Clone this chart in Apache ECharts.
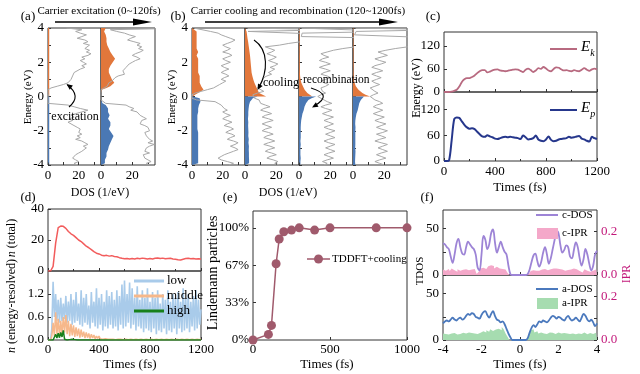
<!DOCTYPE html>
<html><head><meta charset="utf-8">
<script src="https://cdn.jsdelivr.net/npm/echarts@6/dist/echarts.min.js"></script>
<style>html,body{margin:0;padding:0;background:#fff}#c{width:640px;height:374px}</style>
</head><body><div id="c"></div>
<script>
// ---------- DATA ----------
// Energy grid for DOS panels (index 0 = +4.0 eV, index 80 = -4.0 eV)
const energyCats = [];
for (let i = 0; i <= 80; i++) energyCats.push(((40 - i) / 10).toFixed(1));

// total DOS (gray) per sub-panel, E = 4.0 -> -4.0
const dosA1 = [12,22,18,21,25,22,19,24,26,23,27, 28,24,27,25,28,26,22,24,21,23, 25,22,24,21,20,17,18,16,17,15, 16,13,10,6,2,0,0,0,0,0, 0,0,0,0,13,17,21,26,22,18, 15,17,14,16,13,15,16,19,21,22, 20,22,19,21,18,22,24,26,23,25, 24,22,20,18,19,16,18,20,17,19];
const dosA2 = [60,6,10,15,18,22,19,17,21,25,23, 26,24,27,25,22,20,23,25,22,20, 18,19,16,17,14,13,15,11,9,10, 7,5,6,4,2,0,0,0,0,0, 0,0,0,3,16,18,21,19,23,22, 25,27,29,26,27,25,28,30,29,31, 28,27,29,28,31,33,30,34,31,29, 30,28,31,27,26,28,30,32,29,31];
const dosB1 = [1,1,12,17,19,22,25,28,26,23,20, 22,25,23,20,24,26,23,20,22,25, 22,19,21,24,21,19,22,24,21,19, 22,20,18,17,14,10,6,2,0,0, 0,3,15,17,19,18,21,23,20,22, 25,22,20,23,26,23,21,25,27,24, 22,26,28,25,23,27,30,28,25,28, 30,27,24,21,19,17,19,23,27,24];
const dosB2 = [1,60,2,1,60,60,55,45,36,28,22, 13,16,19,17,14,17,20,18,15,18, 21,19,16,19,17,15,17,14,12,13, 11,12,10,9,8,9,12,8,5,5, 6,9,8,10,13,16,12,10,14,17, 13,11,15,18,14,11,14,17,13,11, 15,18,14,12,16,19,15,12,16,19, 15,13,17,20,16,14,18,21,19,22];
const dosB3 = [1,1,60,2,1,1.5,60,60,60,55,45, 36,28,22,18,14,16,19,15,13,17, 20,16,13,17,20,16,14,18,20,17, 14,16,19,17,14,13,15,17,14,12, 13,16,18,21,17,14,17,21,18,15, 18,22,19,16,19,22,19,16,19,23, 20,17,20,23,19,16,19,23,20,17, 20,23,19,16,19,22,18,15,18,16];
const dosB4 = [1,60,2,1,1,1.5,60,60,60,55,45, 35,27,21,16,19,22,18,14,17,21, 18,14,12,16,19,15,12,15,18,15, 12,14,17,14,11,12,14,16,13,11, 12,14,17,19,15,13,16,19,16,13, 16,20,17,14,17,21,18,15,18,22, 19,15,18,21,17,14,18,22,19,16, 19,22,18,15,18,21,17,14,17,20];

// occupied electrons (E = 4.0 -> 0.0) and holes (E = 0.0 -> -4.0)
const elecA1 = [0.8,0.8,0.8,0.8,0.8,0.8,0.8,0.8,0.8,0.8,0.8, 0.8,0.8,0.8,0.8,0.8,0.8,0.8,0.8,0.8,0.8, 0.8,0.8,0.8,0.8,0.8,0.8,0.8,0.8,0.8,0.8, 0.8,0.8,0.8,0.8,0.8,0.8,0.8,0.8,0.8,0.8];
const holeA1 = [0.8,0.8,0.8,0.8,0.8,0.8,0.8,0.8,0.8,0.8,0.8, 0.8,0.8,0.8,0.8,0.8,0.8,0.8,0.8,0.8,0.8, 0.8,0.8,0.8,0.8,0.8,0.8,0.8,0.8,0.8,0.8, 0.8,0.8,0.8,0.8,0.8,0.8,0.8,0.8,0.8,0.8];
const elecA2 = [3,2.5,2,2.5,3,3.5,3.5,4,3.5,4,4, 4.5,5,5.5,6,7,7.5,8.5,9,8,7.5, 7,6,5.5,5,5.5,5,5.5,6,6.5,7, 7.5,8.5,8,6,3.5,0.5,0,0,0,0];
const holeA2 = [0, 0,0,0,1,3,4,4.5,4,4.5,5, 5.5,5,4.5,5,6,6.5,6,5.5,5,5.5, 6.5,7.5,8,7.5,7,6.5,6,5.5,5,4.5, 4.5,4,3.5,3,3.5,3,2.5,3,2.5,2];
const elecB1 = [0,1,3,3.5,3,2.5,3,3.5,3,2.5,3, 3.5,3,3.5,4,3.5,3,3.5,4,4.5,4, 3.5,4,4.5,4,3.5,4,4.5,5,4.5,5, 5.5,5,5.5,6,7,7.5,6,4,2,0.5];
const holeB1 = [0.5, 5,6,5.5,5,4.5,4,4,3.5,4,3.5, 3.5,3,3.5,4,3.5,3,3.5,4,3.5,3.5, 4,4.5,4,3.5,4,3.5,4,4.5,4,3.5, 4,4.5,4,3.5,4,4.5,4,3.5,4,3.5];
const elecB2 = [0,0.5,1,1.2,1.3,1.5,1.6,1.8,2,2.1,2.3, 2.4,2.6,2.8,2.9,3,3.2,3.3,3.4,3.5,3.6, 3.7,3.8,3.9,4,4.1,4.2,4.4,4.7,5,5.3, 5.7,6,6.5,7,7.5,8,8.5,9,10,13.5];
const holeB2 = [8, 5,3.8,3.2,2.8,2.6,2.4,2.3,2.2,2.1,2, 2.1,2,1.9,2,2.1,1.9,2,2.2,2.1,2, 2.2,2.3,2.1,2.2,2.4,2.3,2.2,2.4,2.5,2.3, 2.4,2.6,2.5,2.3,2.5,2.7,2.6,2.4,2.6,2.5];
const elecB3 = [0.3,0.4,0.4,0.5,0.4,0.4,0.5,0.4,0.4,0.5,0.4, 0.4,0.5,0.5,0.4,0.5,0.5,0.4,0.5,0.5,0.5, 0.5,0.5,0.6,0.5,0.6,0.6,0.6,0.7,0.8,1, 1.2,1.5,2,2.5,3,3.6,4.4,5.3,6.5,8.5];
const holeB3 = [11, 8,6,5,4.5,4,3.5,3.5,3,2.5,2.2, 2,1.8,1.5,1.4,1.3,1.2,1.2,1.1,1.2,1.1, 1,1.1,1,1.1,1,0.9,1,1.1,1,0.9, 1,0.9,1,0.9,1,1.1,1,0.9,1,0.9];
const elecB4 = [0.3,0.3,0.4,0.3,0.4,0.3,0.3,0.4,0.3,0.3,0.4, 0.3,0.4,0.3,0.3,0.4,0.3,0.4,0.3,0.3,0.4, 0.3,0.4,0.4,0.3,0.4,0.4,0.4,0.5,0.5,0.5, 0.6,1,1.3,1.8,2.5,3.5,4.5,6,8,11];
const holeB4 = [7, 6,5,4.5,4,3.8,3.5,3,3,2.5,2.2, 2,1.8,1.6,1.5,1.6,1.4,1.5,1.6,1.4,1.5, 1.6,1.5,1.4,1.5,1.6,1.5,1.4,1.5,1.6,1.4, 1.5,1.6,1.4,1.5,1.3,1.4,1.5,1.3,1.4,1.5];

// (c) energies, 0..1200 fs step 20
const ekV = [0,0,0,1,3,6,14,26,33,36,36, 39,43,49,54,57,57,51,53,56,58, 59,56,55,54,55,57,58,59,58,55, 52,58,61,57,52,56,62,60,65,61, 56,54,60,64,63,59,56,57,55,54, 57,55,54,58,62,58,55,59,61,59];
const epV = [0,0,2,48,97,101,100,92,84,78,75, 76,74,68,62,57,56,60,57,55,52, 51,53,55,56,55,56,55,54,53,51, 59,55,50,51,53,59,50,47,46,50, 57,49,46,47,50,51,52,53,56,54, 55,57,58,52,50,47,45,56,53,51];
// (d) n total, 0..1200 fs step 20
const nTotal = [0,0,3,18,28,29,28.8,27.5,25.5,24,23, 21.5,20,19,17.5,16,15,13.8,12.5,11.5,11, 10.2,9.8,10.1,9.6,9.9,9.4,9.2,8.6,8.2,7.9, 8.1,7.7,8.0,7.8,8.2,7.9,8.3,8.0,7.7,8.1, 7.8,8.2,8.4,8.0,8.3,7.9,8.1,8.2,7.8,7.6, 7.3,7.1,7.6,8.0,8.2,7.9,8.1,7.8,7.9,7.7];
// (d) energy-resolved, 0..1200 fs step 10
const nLow = [0,0,0,0.3,1.52,0.6,1.2,0.5,1.05,0.45, 1.1,0.5,0.95,0.55,1.15,0.45,1.0,0.5,1.2,0.4, 1.05,0.45,1.25,0.5,0.95,0.4,1.3,0.35,1.1,0.45, 1.2,0.4,0.9,0.3,1.25,0.45,1.0,0.35,1.35,0.3, 1.1,0.4,1.2,0.25,1.0,0.35,1.3,0.3,1.15,0.4, 1.25,0.3,1.05,0.35,1.3,0.25,1.15,0.4,1.45,0.3, 1.55,0.35,1.2,0.45,1.5,0.3,1.35,0.4,1.1,0.25, 1.4,0.35,1.05,0.3,1.3,0.2,1.1,0.3,1.35,0.25, 1.0,0.2,1.25,0.3,1.1,0.15,1.3,0.25,0.95,0.2, 1.2,0.3,1.05,0.15,1.3,0.25,1.0,0.2,1.2,0.3, 1.1,0.15,1.25,0.3,1.0,0.2,1.35,0.25,1.1,0.3, 1.2,0.2,1.0,0.35,1.15,0.25,1.3,0.3,1.05,0.4, 0.8];
const nMiddle = [0,0,0,0.1,0.45,0.1,0.72,0.15,0.55,0.1, 0.5,0.15,0.6,0.2,0.65,0.15,0.5,0.1,0.42,0.12, 0.38,0.08,0.33,0.1,0.3,0.06,0.27,0.08,0.22,0.05, 0.2,0.06,0.17,0.04,0.15,0.05,0.13,0.03,0.1,0.04, 0.1,0.03,0.08,0.02,0.07,0.03,0.06,0.02,0.07,0.02, 0.05,0.02,0.06,0.01,0.05,0.02,0.07,0.02,0.05,0.01, 0.06,0.02,0.05,0.01,0.04,0.02,0.06,0.01,0.05,0.02, 0.04,0.01,0.06,0.02,0.05,0.01,0.04,0.02,0.05,0.01, 0.05,0.02,0.04,0.01,0.06,0.02,0.04,0.01,0.05,0.02, 0.04,0.01,0.05,0.02,0.06,0.01,0.04,0.02,0.05,0.01, 0.04,0.02,0.05,0.01,0.04,0.02,0.06,0.01,0.04,0.02, 0.05,0.01,0.04,0.02,0.05,0.01,0.04,0.02,0.05,0.01, 0.03];
const nHigh = [0,0,0,0,0,0.04,0.15,0.05,0.18,0.06, 0.2,0.08,0.25,0.02,0,0,0,0.01,0,0.02, 0,0.01,0.02,0,0.01,0,0,0,0,0, 0,0,0,0,0,0,0,0,0,0, 0,0,0,0,0,0,0,0,0,0, 0,0,0,0,0,0,0,0,0,0, 0,0,0,0,0,0,0,0,0,0, 0,0,0,0,0,0,0,0,0,0, 0,0,0,0,0,0,0,0,0,0, 0,0,0,0,0,0,0,0,0,0, 0,0,0,0,0,0,0,0,0,0, 0,0,0,0,0,0,0,0,0,0, 0];
// (e) Lindemann
const lindT = [0,100,120,150,170,200,250,300,400,500,800,1000];
const lindV = [0,0.05,0.13,0.68,0.9,0.965,0.98,1.0,0.98,1.0,1.0,1.0];
// (f) -4..4 step 0.1
const cDOS = [34,33,30,28,20,13,22,34,39,30,23, 22,30,36,33,30,28,22,8,5,22, 42,38,28,33,45,49,35,24,30,36, 30,25,22,10,1,0,0,0,0,0, 0,0,0,1,6,14,21,23,15,9, 14,24,30,22,12,18,28,38,48,45, 32,24,27,32,30,20,18,27,35,30, 18,10,17,28,22,12,5,10,22,26];
const cIPR = [0.025,0.02,0.012,0.028,0.018,0.03,0.022,0.015,0.027,0.02,0.024, 0.018,0.026,0.022,0.03,0.025,0.028,0.02,0.005,0.015,0.03, 0.034,0.028,0.032,0.04,0.045,0.042,0.03,0.038,0.03,0.033, 0.028,0.025,0.02,0.01,0,0,0,0,0,0, 0,0,0,0,0.008,0.018,0.022,0.02,0.015,0.02, 0.025,0.018,0.028,0.022,0.02,0.026,0.03,0.025,0.03,0.028, 0.022,0.025,0.02,0.027,0.023,0.025,0.02,0.03,0.026,0.022, 0.018,0.012,0.02,0.026,0.02,0.015,0.01,0.02,0.025,0.022];
const aDOS = [18,20,21,20,22,24,22,21,23,24,22, 23,26,28,27,29,28,25,24,23,27, 30,31,27,24,28,31,26,22,21,19, 20,17,12,7,3,0,0,0,0,0, 0,0,0,2,8,13,16,14,17,20, 19,21,20,19,21,24,26,25,23,25, 24,22,21,24,26,23,21,22,24,22, 20,24,28,26,22,20,22,19,15,18];
const aIPR = [0.03,0.028,0.035,0.025,0.03,0.027,0.032,0.025,0.03,0.028,0.033, 0.026,0.03,0.035,0.028,0.032,0.03,0.036,0.028,0.034,0.03, 0.04,0.035,0.045,0.038,0.05,0.042,0.048,0.04,0.052,0.045, 0.06,0.05,0.03,0.015,0,0,0,0,0,0, 0,0,0,0,0.02,0.045,0.05,0.035,0.04,0.03, 0.035,0.03,0.032,0.028,0.035,0.03,0.033,0.028,0.03,0.035, 0.03,0.028,0.032,0.03,0.034,0.028,0.03,0.033,0.027,0.03, 0.032,0.028,0.035,0.03,0.027,0.032,0.03,0.028,0.033,0.03];

// sampling grids
const t20 = []; for (let i = 0; i <= 60; i++) t20.push(i * 20);
const t10 = []; for (let i = 0; i <= 120; i++) t10.push(i * 10);
const eF = []; for (let i = 0; i <= 80; i++) eF.push((i - 40) / 10);

// ---------- STYLE ----------
const FONT = 'Liberation Serif';
const C = {orange:'#e2773b', blue:'#4a78b4', gray:'#a8a8a8', ek:'#b86a80', ep:'#26378c', ntot:'#f25c5c',
  low:'#a9cbea', mid:'#f6b88b', high:'#17801b', lind:'#a05a6c', cdos:'#9d84d6', cipr:'#f4a8c9',
  ados:'#4b79bd', aipr:'#a6dcb0', ipr:'#c2187a', ax:'#333'};
const LB = o => Object.assign({fontFamily:FONT, fontSize:13, fontWeight:'normal', color:'#000', margin:4, formatter: v => String(v)}, o || {});
const TK = o => Object.assign({show:true, inside:true, length:3, lineStyle:{color:C.ax, width:1}}, o || {});
const MT = {show:true, splitNumber:2, length:2, lineStyle:{color:C.ax, width:1}};

const grids = [], xAxes = [], yAxes = [], series = [], graphics = [];
function addGrid(left, top, width, height) {
  grids.push({left, top, width, height, show:true, borderColor:C.ax, borderWidth:1,
    backgroundColor:'rgba(0,0,0,0)', containLabel:false, outerBoundsMode:'none'});
  return grids.length - 1;
}
function addX(o) { xAxes.push(Object.assign({type:'value', axisLine:{show:false, onZero:false}, splitLine:{show:false}, axisTick:TK(), axisLabel:LB()}, o)); return xAxes.length - 1; }
function addY(o) { yAxes.push(Object.assign({type:'value', axisLine:{show:false, onZero:false}, splitLine:{show:false}, axisTick:TK(), axisLabel:LB()}, o)); return yAxes.length - 1; }

// ---------- (a),(b) DOS sub-panels ----------
const dosPanels = [
  {left:48, width:53, gray:dosA1, elec:elecA1, hole:holeA1, lab:true},
  {left:101, width:54, gray:dosA2, elec:elecA2, hole:holeA2},
  {left:192, width:53, gray:dosB1, elec:elecB1, hole:holeB1, lab:true},
  {left:245, width:54, gray:dosB2, elec:elecB2, hole:holeB2},
  {left:299, width:54, gray:dosB3, elec:elecB3, hole:holeB3},
  {left:353, width:54, gray:dosB4, elec:elecB4, hole:holeB4}
];
const nulls40 = []; for (let i = 0; i < 40; i++) nulls40.push(null);
dosPanels.forEach(p => {
  const g = addGrid(p.left, 28, p.width, 137);
  const xi = addX({gridIndex:g, min:0, max:34.5, interval:10,
    axisLabel:LB({showMaxLabel:false, formatter: v => (v === 0 || v === 20) ? String(v) : ''})});
  const yi = addY({gridIndex:g, type:'category', data:energyCats, inverse:true, boundaryGap:false,
    axisTick:TK({interval:9}),
    axisLabel:LB({show:!!p.lab, interval:19, formatter: v => String(parseFloat(v))})});
  series.push({type:'line', xAxisIndex:xi, yAxisIndex:yi, data:p.elec.concat(nulls40), symbol:'none',
    lineStyle:{width:0, color:C.orange}, areaStyle:{color:C.orange, opacity:1}, silent:true});
  series.push({type:'line', xAxisIndex:xi, yAxisIndex:yi, data:nulls40.concat(p.hole), symbol:'none',
    lineStyle:{width:0, color:C.blue}, areaStyle:{color:C.blue, opacity:1}, silent:true});
  series.push({type:'line', xAxisIndex:xi, yAxisIndex:yi, data:p.gray, symbol:'none',
    lineStyle:{width:1, color:C.gray}, silent:true});
});

// ---------- (c) ----------
{
  const g1 = addGrid(444, 32, 153, 60), g2 = addGrid(444, 92, 153, 69);
  const x1 = addX({gridIndex:g1, min:0, max:1200, interval:400, minorTick:MT, axisLabel:LB({show:false})});
  const y1 = addY({gridIndex:g1, min:0, max:156, interval:60, axisLabel:LB({showMaxLabel:false})});
  const x2 = addX({gridIndex:g2, min:0, max:1200, interval:400, minorTick:MT});
  const y2 = addY({gridIndex:g2, min:0, max:160, interval:60, axisLabel:LB({showMaxLabel:false})});
  series.push({type:'line', xAxisIndex:x1, yAxisIndex:y1, data:t20.map((t,i)=>[t, ekV[i]]), symbol:'none', smooth:0.3,
    lineStyle:{width:1.8, color:C.ek}});
  series.push({type:'line', xAxisIndex:x2, yAxisIndex:y2, data:t20.map((t,i)=>[t, epV[i]]), symbol:'none', smooth:0.3,
    lineStyle:{width:2, color:C.ep}});
}
// ---------- (d) ----------
{
  const g1 = addGrid(48, 209, 153, 62), g2 = addGrid(48, 271, 153, 69);
  const x1 = addX({gridIndex:g1, min:0, max:1200, interval:400, minorTick:MT, axisLabel:LB({show:false})});
  const y1 = addY({gridIndex:g1, min:0, max:40, interval:20});
  const x2 = addX({gridIndex:g2, min:0, max:1200, interval:400, minorTick:MT, axisLabel:LB({margin:3})});
  const y2 = addY({gridIndex:g2, min:0, max:1.8, interval:0.6, axisLabel:LB({showMaxLabel:false, formatter: v => v.toFixed(1)})});
  series.push({type:'line', xAxisIndex:x1, yAxisIndex:y1, data:t20.map((t,i)=>[t, nTotal[i]]), symbol:'none',
    lineStyle:{width:1.5, color:C.ntot}});
  series.push({type:'line', xAxisIndex:x2, yAxisIndex:y2, data:t10.map((t,i)=>[t, nLow[i]]), symbol:'none',
    lineStyle:{width:1.6, color:C.low}});
  series.push({type:'line', xAxisIndex:x2, yAxisIndex:y2, data:t10.map((t,i)=>[t, nMiddle[i]]), symbol:'none',
    lineStyle:{width:1.5, color:C.mid}});
  series.push({type:'line', xAxisIndex:x2, yAxisIndex:y2, data:t10.map((t,i)=>[t, nHigh[i]]), symbol:'none',
    lineStyle:{width:1.5, color:C.high}});
}
// ---------- (e) ----------
{
  const g = addGrid(253, 211, 154, 129);
  const x = addX({gridIndex:g, min:0, max:1000, interval:500, axisLabel:LB({margin:3})});
  const y = addY({gridIndex:g, min:0, max:1.15, interval:1/3,
    axisLabel:LB({showMaxLabel:false, formatter: v => Math.round(v * 100) + '%'})});
  series.push({type:'line', xAxisIndex:x, yAxisIndex:y, data:lindT.map((t,i)=>[t, lindV[i]]),
    symbol:'circle', symbolSize:9, lineStyle:{width:1.5, color:C.lind}, itemStyle:{color:C.lind}});
}
// ---------- (f) ----------
{
  const rows = [{top:210, dos:cDOS, ipr:cIPR, dc:C.cdos, ic:C.cipr, xl:false},
                {top:275, dos:aDOS, ipr:aIPR, dc:C.ados, ic:C.aipr, xl:true}];
  rows.forEach(r => {
    const g = addGrid(443, r.top, 154, 65);
    const x = addX({gridIndex:g, min:-4, max:4, interval:2, axisLabel:LB({show:r.xl, margin:3})});
    const yl = addY({gridIndex:g, min:0, max:70, interval:25,
      axisLabel:LB({showMaxLabel:false, formatter: v => (v === 0 || v === 50) ? String(v) : ''})});
    const yr = addY({gridIndex:g, position:'right', min:0, max:0.3, interval:0.1,
      axisLabel:LB({color:C.ipr, showMaxLabel:false,
        formatter: v => (Math.abs(v) < 1e-6 || Math.abs(v - 0.2) < 1e-6) ? v.toFixed(1) : ''})});
    series.push({type:'line', xAxisIndex:x, yAxisIndex:yr, data:eF.map((e,i)=>[e, r.ipr[i]]), step:'middle',
      symbol:'none', lineStyle:{width:0, color:r.ic}, areaStyle:{color:r.ic, opacity:1}});
    series.push({type:'line', xAxisIndex:x, yAxisIndex:yl, data:eF.map((e,i)=>[e, r.dos[i]]), smooth:0.35,
      symbol:'none', lineStyle:{width:1.8, color:r.dc}});
  });
}

// ---------- annotations / texts ----------
function T(x, y, text, o) {
  o = o || {};
  const size = o.size || 13;
  return {type:'text', x, y, rotation:o.rot || 0, z:100,
    style:Object.assign({text, fontFamily:FONT, fontSize:size, fontWeight:'normal', fontStyle:'normal', fill:o.color || '#000',
      align:o.align || 'center', verticalAlign:'middle'}, o.style || {})};
}
function L(x1, y1, x2, y2, color, w) { return {type:'line', z:100, shape:{x1,y1,x2,y2}, style:{stroke:color, lineWidth:w}}; }
function head(x, y, fx, fy, len, hw) {
  const dx = x - fx, dy = y - fy, n = Math.hypot(dx, dy), ux = dx / n, uy = dy / n;
  const bx = x - ux * len, by = y - uy * len;
  return {type:'polygon', z:100, shape:{points:[[x,y],[bx - uy*hw, by + ux*hw],[bx + uy*hw, by - ux*hw]]}, style:{fill:'#000'}};
}
const V = Math.PI / 2;
const richE = {e:{fontFamily:FONT, fontSize:15, fontStyle:'italic', padding:[0,0,3,0], verticalAlign:'bottom'},
               s:{fontFamily:FONT, fontSize:10, fontStyle:'italic', verticalAlign:'bottom'}};
const richN = {i:{fontFamily:FONT, fontSize:12, fontStyle:'italic'}};
graphics.push(
  T(28, 17, '(a)'), T(178, 17, '(b)'), T(433, 17, '(c)'),
  T(28, 198, '(d)'), T(230, 198, '(e)'), T(427, 198, '(f)'),
  T(99, 11, 'Carrier excitation (0~120fs)', {size:11}),
  T(298, 11, 'Carrier cooling and recombination (120~1200fs)', {size:11}),
  L(55, 22, 136, 22, '#000', 1.3), {type:'polygon', z:100, shape:{points:[[152,22],[133,18.5],[133,25.5]]}, style:{fill:'#000'}},
  L(205, 22, 382, 22, '#000', 1.3), {type:'polygon', z:100, shape:{points:[[398,22],[379,18.5],[379,25.5]]}, style:{fill:'#000'}},
  T(28, 97, 'Energy (eV)', {size:11, rot:V}), T(172, 97, 'Energy (eV)', {size:11, rot:V}),
  T(100, 193, 'DOS (1/eV)', {size:12}), T(288, 193, 'DOS (1/eV)', {size:12}),
  T(75, 117, 'excitation', {size:12}),
  {type:'bezierCurve', z:100, shape:{x1:69, y1:107, cpx1:82, cpy1:96, x2:67.5, y2:85}, style:{stroke:'#000', lineWidth:1.1, fill:null}},
  head(66.5, 84, 80, 94, 6, 2.6),
  T(263, 83, 'cooling', {size:12, align:'left'}),
  {type:'bezierCurve', z:100, shape:{x1:254, y1:40, cpx1:269, cpy1:50, cpx2:268, cpy2:72, x2:258.5, y2:88}, style:{stroke:'#000', lineWidth:1.1, fill:null}},
  head(257.5, 90, 266, 74, 6, 2.6),
  T(303, 80, 'recombination', {size:11.5, align:'left'}),
  {type:'bezierCurve', z:100, shape:{x1:311, y1:88, cpx1:334, cpy1:95, x2:314, y2:106}, style:{stroke:'#000', lineWidth:1.1, fill:null}},
  head(312, 107.5, 330, 97, 6, 2.6),
  // (c)
  T(417, 88, 'Energy (eV)', {size:12, rot:V}),
  T(520, 188, 'Times (fs)'),
  L(550, 49, 577, 49, C.ek, 2), L(550, 110, 577, 110, C.ep, 2),
  T(581, 49, '{e|E}{s|k}', {align:'left', style:{rich:richE}}),
  T(581, 110, '{e|E}{s|p}', {align:'left', style:{rich:richE}}),
  // (d)
  T(12, 238, '{i|n} (total)', {size:12, rot:V, style:{rich:richN}}),
  T(12, 306, '{i|n} (energy-resolved)', {size:12, rot:V, style:{rich:richN}}),
  T(130, 365, 'Times (fs)'),
  L(134, 281, 164, 281, C.low, 3), T(167, 281, 'low', {align:'left'}),
  L(134, 296, 164, 296, C.mid, 3), T(167, 296, 'middle', {align:'left'}),
  L(134, 311, 164, 311, C.high, 3), T(167, 311, 'high', {align:'left'}),
  // (e)
  T(213, 273, 'Lindemann particles', {size:14, rot:V}),
  T(327, 365, 'Times (fs)'),
  L(307, 259, 330, 259, C.lind, 1.5), {type:'circle', z:100, shape:{cx:318.5, cy:259, r:4.5}, style:{fill:C.lind}},
  T(332, 259, 'TDDFT+cooling', {size:11, align:'left'}),
  // (f)
  T(420, 271, 'TDOS', {size:11, rot:V}),
  T(627, 274, 'IPR', {size:12, rot:V, color:C.ipr}),
  T(520, 365, 'Times (fs)'),
  L(536, 215, 558, 215, C.cdos, 2), T(562, 215, 'c-DOS', {size:11, align:'left'}),
  {type:'rect', z:100, shape:{x:537, y:228, width:21, height:11}, style:{fill:C.cipr}}, T(562, 233, 'c-IPR', {size:11, align:'left'}),
  L(536, 289, 558, 289, C.ados, 2), T(562, 289, 'a-DOS', {size:11, align:'left'}),
  {type:'rect', z:100, shape:{x:537, y:298, width:21, height:11}, style:{fill:C.aipr}}, T(562, 303, 'a-IPR', {size:11, align:'left'})
);

const chart = echarts.init(document.getElementById('c'), null, {renderer:'canvas', width:640, height:374});
chart.setOption({
  animation:false, backgroundColor:'#fff', textStyle:{fontFamily:FONT},
  grid:grids, xAxis:xAxes, yAxis:yAxes, series:series, graphic:graphics
});
</script></body></html>
